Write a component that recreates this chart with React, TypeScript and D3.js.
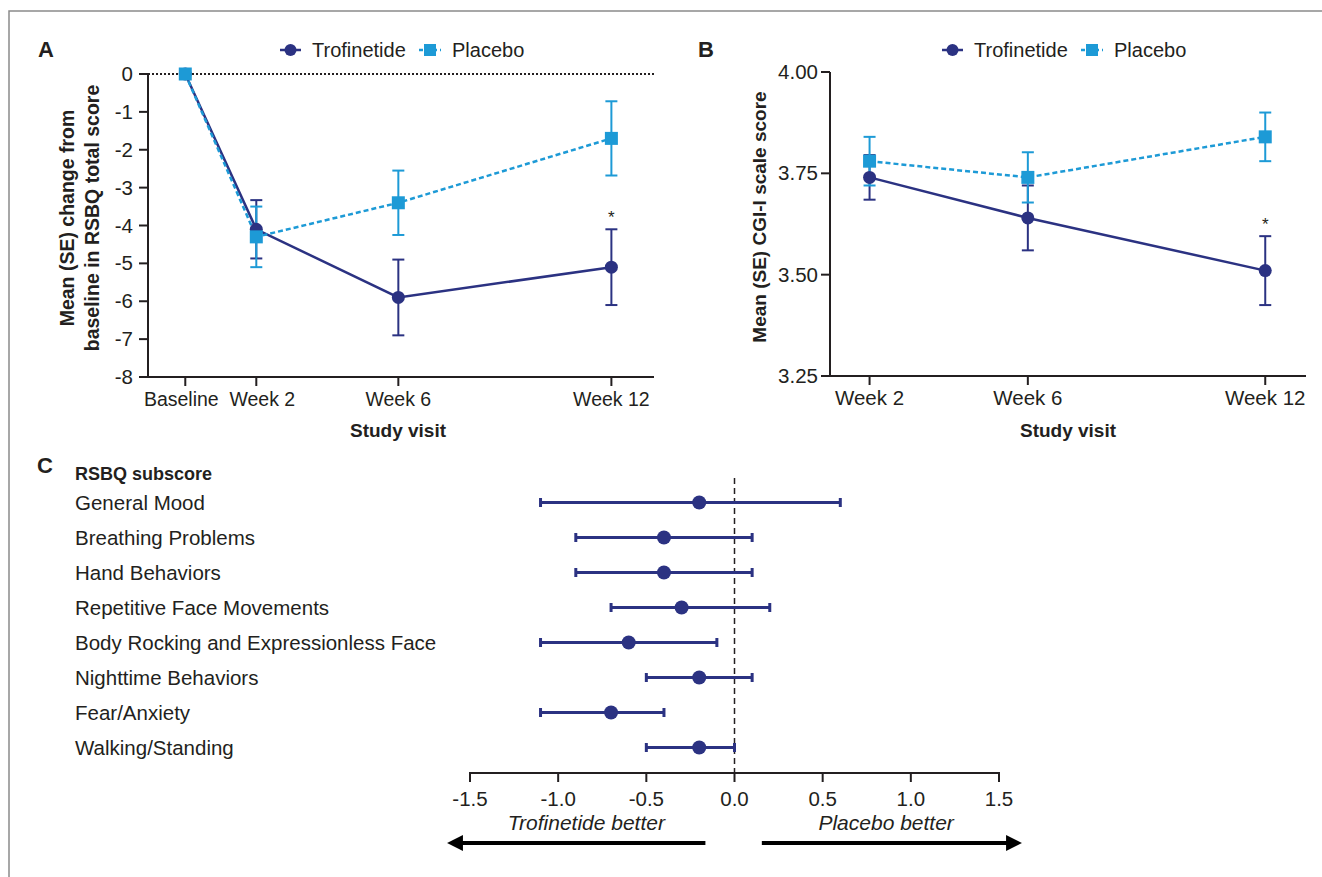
import React from "react";
import * as d3 from "d3";

// ---- data ----
const weeksA = [0, 2, 6, 12];
const weekLabelsA = ["Baseline", "Week 2", "Week 6", "Week 12"];
const trofA = [0, -4.1, -5.9, -5.1];
const trofA_se = [0, 0.77, 1.0, 1.0];
const placA = [0, -4.3, -3.4, -1.7];
const placA_se = [0, 0.8, 0.85, 0.98];
const ticksA = [0, -1, -2, -3, -4, -5, -6, -7, -8];

const weeksB = [2, 6, 12];
const weekLabelsB = ["Week 2", "Week 6", "Week 12"];
const trofB = [3.74, 3.64, 3.51];
const trofB_se = [0.055, 0.08, 0.085];
const placB = [3.78, 3.74, 3.84];
const placB_se = [0.06, 0.062, 0.06];
const ticksB = [4.0, 3.75, 3.5, 3.25];

const subscores = [
  "General Mood",
  "Breathing Problems",
  "Hand Behaviors",
  "Repetitive Face Movements",
  "Body Rocking and Expressionless Face",
  "Nighttime Behaviors",
  "Fear/Anxiety",
  "Walking/Standing",
];
const estC = [-0.2, -0.4, -0.4, -0.3, -0.6, -0.2, -0.7, -0.2];
const lowC = [-1.1, -0.9, -0.9, -0.7, -1.1, -0.5, -1.1, -0.5];
const highC = [0.6, 0.1, 0.1, 0.2, -0.1, 0.1, -0.4, 0.0];
const ticksC = [-1.5, -1.0, -0.5, 0.0, 0.5, 1.0, 1.5];

const TROF = "#2b3282";
const PLAC = "#1d9ad6";
const INK = "#231f20";
const FONT = "'Liberation Sans', Arial, Helvetica, sans-serif";
const TICK_FS = 20.5;

function ErrBar({ x, y1, y2, color, cap = 6 }: any) {
  return (
    <g stroke={color} strokeWidth={2}>
      <line x1={x} x2={x} y1={y1} y2={y2} />
      <line x1={x - cap} x2={x + cap} y1={y1} y2={y1} />
      <line x1={x - cap} x2={x + cap} y1={y2} y2={y2} />
    </g>
  );
}

function Legend({ x, y }: any) {
  return (
    <g fontFamily={FONT} fontSize={20} fill={INK}>
      <line x1={x} x2={x + 21} y1={y} y2={y} stroke={TROF} strokeWidth={2.5} />
      <circle cx={x + 10.5} cy={y} r={6} fill={TROF} />
      <text x={x + 32} y={y + 7}>Trofinetide</text>
      <line x1={x + 139} x2={x + 161} y1={y} y2={y} stroke={PLAC} strokeWidth={2.5} strokeDasharray="4,3" />
      <rect x={x + 144} y={y - 6} width={12} height={12} fill={PLAC} />
      <text x={x + 172} y={y + 7}>Placebo</text>
    </g>
  );
}

function PanelA() {
  const x = d3.scaleLinear().domain([-1.05, 13.2]).range([148, 654]);
  const y = d3.scaleLinear().domain([0, -8]).range([74, 377]);
  const line = d3.line<number>().x((_, i) => x(weeksA[i])).y((d) => y(d));
  // the two crowded labels at the left are nudged apart as in the original
  const labelDx = [-4, 6, 0, 0];
  return (
    <g fontFamily={FONT}>
      <line x1={x.range()[0]} x2={x.range()[1]} y1={y(0)} y2={y(0)} stroke={INK} strokeWidth={2} strokeDasharray="2,2" />
      <line x1={148} x2={148} y1={y(0)} y2={y(-8) + 1} stroke={INK} strokeWidth={2} />
      <line x1={147} x2={654} y1={y(-8)} y2={y(-8)} stroke={INK} strokeWidth={2} />
      {ticksA.map((t) => (
        <g key={t}>
          <line x1={139} x2={148} y1={y(t)} y2={y(t)} stroke={INK} strokeWidth={2} />
          <text x={133} y={y(t) + 7} textAnchor="end" fontSize={TICK_FS} fill={INK}>{t}</text>
        </g>
      ))}
      {weeksA.map((w, i) => (
        <g key={w}>
          <line x1={x(w)} x2={x(w)} y1={y(-8)} y2={y(-8) + 9} stroke={INK} strokeWidth={2} />
          <text x={x(w) + labelDx[i]} y={y(-8) + 29} textAnchor="middle" fontSize={19.5} fill={INK}>{weekLabelsA[i]}</text>
        </g>
      ))}
      <text x={398} y={437} textAnchor="middle" fontSize={19} fontWeight="bold" fill={INK}>Study visit</text>
      <text transform={`translate(74,218) rotate(-90)`} textAnchor="middle" fontSize={19.5} fontWeight="bold" fill={INK}>Mean (SE) change from</text>
      <text transform={`translate(99,218) rotate(-90)`} textAnchor="middle" fontSize={19.5} fontWeight="bold" fill={INK}>baseline in RSBQ total score</text>
      {weeksA.slice(1).map((w, j) => {
        const i = j + 1;
        return (
          <g key={w}>
            <ErrBar x={x(w)} y1={y(trofA[i] + trofA_se[i])} y2={y(trofA[i] - trofA_se[i])} color={TROF} />
            <ErrBar x={x(w)} y1={y(placA[i] + placA_se[i])} y2={y(placA[i] - placA_se[i])} color={PLAC} />
          </g>
        );
      })}
      <path d={line(trofA) || ""} fill="none" stroke={TROF} strokeWidth={2.5} />
      <path d={line(placA) || ""} fill="none" stroke={PLAC} strokeWidth={2.5} strokeDasharray="5,3" />
      {trofA.map((v, i) => (
        <circle key={i} cx={x(weeksA[i])} cy={y(v)} r={6.5} fill={TROF} />
      ))}
      {placA.map((v, i) => (
        <rect key={i} x={x(weeksA[i]) - 6.5} y={y(v) - 6.5} width={13} height={13} fill={PLAC} />
      ))}
      <text x={x(12)} y={y(trofA[3] + trofA_se[3]) - 6} textAnchor="middle" fontSize={17} fill={INK}>*</text>
      <text x={38} y={57} fontSize={22} fontWeight="bold" fill={INK}>A</text>
      <Legend x={280} y={50} />
    </g>
  );
}

function PanelB() {
  const x = d3.scaleLinear().domain([1, 13.03]).range([830, 1306]);
  const y = d3.scaleLinear().domain([3.25, 4.0]).range([376, 72]);
  const line = d3.line<number>().x((_, i) => x(weeksB[i])).y((d) => y(d));
  return (
    <g fontFamily={FONT}>
      <line x1={830} x2={830} y1={y(4)} y2={y(3.25) + 1} stroke={INK} strokeWidth={2} />
      <line x1={829} x2={1306} y1={y(3.25)} y2={y(3.25)} stroke={INK} strokeWidth={2} />
      {ticksB.map((t) => (
        <g key={t}>
          <line x1={821} x2={830} y1={y(t)} y2={y(t)} stroke={INK} strokeWidth={2} />
          <text x={818} y={y(t) + 7} textAnchor="end" fontSize={TICK_FS} fill={INK}>{t.toFixed(2)}</text>
        </g>
      ))}
      {weeksB.map((w, i) => (
        <g key={w}>
          <line x1={x(w)} x2={x(w)} y1={y(3.25)} y2={y(3.25) + 9} stroke={INK} strokeWidth={2} />
          <text x={x(w)} y={y(3.25) + 29} textAnchor="middle" fontSize={TICK_FS} fill={INK}>{weekLabelsB[i]}</text>
        </g>
      ))}
      <text x={1068} y={437} textAnchor="middle" fontSize={19} fontWeight="bold" fill={INK}>Study visit</text>
      <text transform={`translate(766,217) rotate(-90)`} textAnchor="middle" fontSize={19} fontWeight="bold" fill={INK}>Mean (SE) CGI-I scale score</text>
      {weeksB.map((w, i) => (
        <g key={w}>
          <ErrBar x={x(w)} y1={y(trofB[i] + trofB_se[i])} y2={y(trofB[i] - trofB_se[i])} color={TROF} />
          <ErrBar x={x(w)} y1={y(placB[i] + placB_se[i])} y2={y(placB[i] - placB_se[i])} color={PLAC} />
        </g>
      ))}
      <path d={line(trofB) || ""} fill="none" stroke={TROF} strokeWidth={2.5} />
      <path d={line(placB) || ""} fill="none" stroke={PLAC} strokeWidth={2.5} strokeDasharray="5,3" />
      {trofB.map((v, i) => (
        <circle key={i} cx={x(weeksB[i])} cy={y(v)} r={6.5} fill={TROF} />
      ))}
      {placB.map((v, i) => (
        <rect key={i} x={x(weeksB[i]) - 6.5} y={y(v) - 6.5} width={13} height={13} fill={PLAC} />
      ))}
      <text x={x(12)} y={y(trofB[2] + trofB_se[2]) - 6} textAnchor="middle" fontSize={17} fill={INK}>*</text>
      <text x={698} y={57} fontSize={22} fontWeight="bold" fill={INK}>B</text>
      <Legend x={942} y={50} />
    </g>
  );
}

function PanelC() {
  const x = d3.scaleLinear().domain([-1.5, 1.5]).range([470, 999]);
  const y = d3.scaleBand().domain(subscores).range([485, 765]).paddingInner(0);
  const cy = (s: string) => y(s)! + y.bandwidth() / 2;
  const axisY = 773;
  const arrowY = 843;
  return (
    <g fontFamily={FONT}>
      <text x={37} y={473} fontSize={22} fontWeight="bold" fill={INK}>C</text>
      <text x={75} y={480} fontSize={18} fontWeight="bold" fill={INK}>RSBQ subscore</text>
      {subscores.map((s) => (
        <text key={s} x={75} y={cy(s) + 7} fontSize={20.5} fill={INK}>{s}</text>
      ))}
      <line x1={x(0)} x2={x(0)} y1={478} y2={axisY} stroke={INK} strokeWidth={1.5} strokeDasharray="6,4" />
      {subscores.map((s, i) => (
        <g key={s} stroke={TROF} strokeWidth={3}>
          <line x1={x(lowC[i])} x2={x(highC[i])} y1={cy(s)} y2={cy(s)} />
          <line x1={x(lowC[i])} x2={x(lowC[i])} y1={cy(s) - 4.5} y2={cy(s) + 4.5} />
          <line x1={x(highC[i])} x2={x(highC[i])} y1={cy(s) - 4.5} y2={cy(s) + 4.5} />
          <circle cx={x(estC[i])} cy={cy(s)} r={7} fill={TROF} stroke="none" />
        </g>
      ))}
      <line x1={x(-1.5) - 1} x2={x(1.5) + 1} y1={axisY} y2={axisY} stroke={INK} strokeWidth={2} />
      {ticksC.map((t) => (
        <g key={t}>
          <line x1={x(t)} x2={x(t)} y1={axisY} y2={axisY + 9} stroke={INK} strokeWidth={2} />
          <text x={x(t)} y={axisY + 33} textAnchor="middle" fontSize={TICK_FS} fill={INK}>{t.toFixed(1)}</text>
        </g>
      ))}
      <text x={x(-0.84)} y={830} textAnchor="middle" fontSize={21} fontStyle="italic" fill={INK}>Trofinetide better</text>
      <text x={x(0.86)} y={830} textAnchor="middle" fontSize={21} fontStyle="italic" fill={INK}>Placebo better</text>
      <line x1={x(-1.56)} x2={x(-0.165)} y1={arrowY} y2={arrowY} stroke="#000" strokeWidth={4} />
      <path d={`M${x(-1.63)},${arrowY} L${x(-1.54)},${arrowY - 8} L${x(-1.54)},${arrowY + 8} Z`} fill="#000" />
      <line x1={x(0.155)} x2={x(1.56)} y1={arrowY} y2={arrowY} stroke="#000" strokeWidth={4} />
      <path d={`M${x(1.63)},${arrowY} L${x(1.54)},${arrowY - 8} L${x(1.54)},${arrowY + 8} Z`} fill="#000" />
    </g>
  );
}

export default function App() {
  return (
    <svg width={1322} height={877} style={{ position: "absolute", left: 0, top: 0, background: "#fff" }}>
      <rect width={1322} height={877} fill="#fff" />
      <path d="M9,877 L9,11 L1322,11" fill="none" stroke="#8a8a8a" strokeWidth={1.5} />
      <PanelA />
      <PanelB />
      <PanelC />
    </svg>
  );
}
